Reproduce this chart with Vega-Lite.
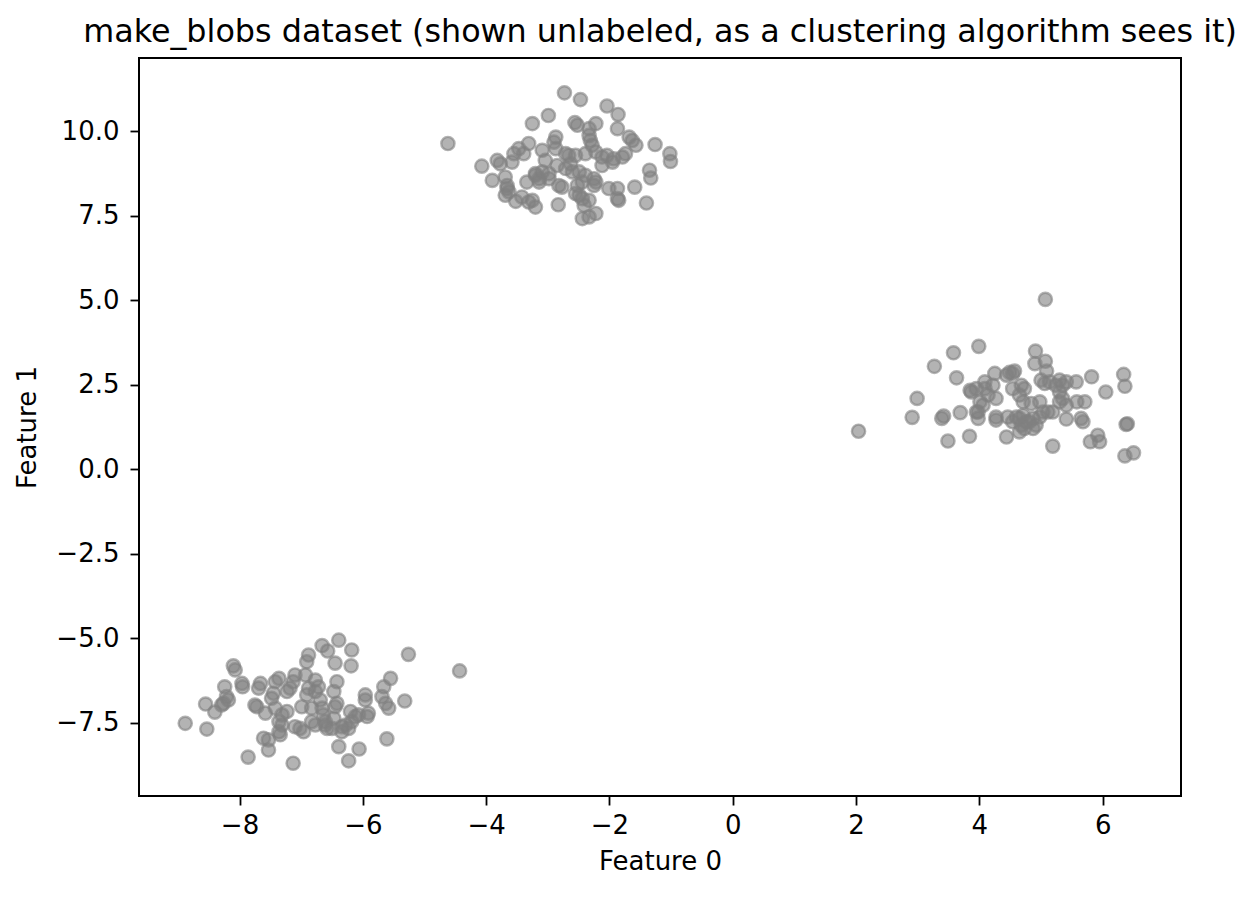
{
  "$schema": "https://vega.github.io/schema/vega-lite/v6.json",
  "autosize": "none",
  "width": 1042,
  "height": 738,
  "padding": {"left": 139, "top": 58, "right": 78, "bottom": 102},
  "background": "white",
  "config": {
    "font": "DejaVu Sans",
    "view": {"stroke": "#000000", "strokeWidth": 2},
    "axis": {"grid": false, "domain": false, "tickColor": "#000000", "tickWidth": 1.8, "tickSize": 9, "labelColor": "#000000", "titleColor": "#000000", "labelFont": "DejaVu Sans", "titleFont": "DejaVu Sans", "labelFontSize": 26, "titleFontSize": 26, "titleFontWeight": "normal"}
  },
  "title": {"text": "make_blobs dataset (shown unlabeled, as a clustering algorithm sees it)", "font": "DejaVu Sans", "fontSize": 31.8, "fontWeight": "normal", "color": "#000000", "anchor": "middle", "offset": 9},
  "data": {"values": [
    {"x":-4.62,"y":9.64},{"x":-2.73,"y":11.14},{"x":-2.47,"y":10.94},{"x":-2.04,"y":10.75},{"x":-1.86,"y":10.50},{"x":-2.99,"y":10.47},{"x":-3.25,"y":10.23},{"x":-2.56,"y":10.26},{"x":-2.52,"y":10.18},{"x":-2.22,"y":10.23},{"x":-1.87,"y":10.08},{"x":-2.33,"y":10.08},{"x":-1.68,"y":9.83},{"x":-1.63,"y":9.73},{"x":-1.57,"y":9.59},{"x":-1.26,"y":9.61},{"x":-1.02,"y":9.34},{"x":-1.01,"y":9.11},{"x":-2.87,"y":9.83},{"x":-2.90,"y":9.68},{"x":-2.31,"y":9.73},{"x":-2.28,"y":9.59},{"x":-3.47,"y":9.49},{"x":-3.39,"y":9.34},{"x":-3.31,"y":9.64},{"x":-3.09,"y":9.44},{"x":-2.66,"y":9.29},{"x":-2.71,"y":9.34},{"x":-2.39,"y":9.34},{"x":-2.12,"y":9.24},{"x":-1.95,"y":9.09},{"x":-1.79,"y":9.24},{"x":-1.74,"y":9.34},{"x":-3.82,"y":9.14},{"x":-3.77,"y":9.04},{"x":-3.58,"y":9.09},{"x":-4.07,"y":8.97},{"x":-3.90,"y":8.55},{"x":-3.69,"y":8.65},{"x":-3.66,"y":8.40},{"x":-3.63,"y":8.21},{"x":-3.52,"y":7.93},{"x":-3.31,"y":7.91},{"x":-3.20,"y":7.76},{"x":-3.25,"y":7.96},{"x":-3.42,"y":8.06},{"x":-3.34,"y":8.50},{"x":-3.20,"y":8.70},{"x":-3.09,"y":8.80},{"x":-2.98,"y":8.75},{"x":-3.14,"y":8.60},{"x":-2.82,"y":8.40},{"x":-2.77,"y":8.35},{"x":-2.83,"y":7.83},{"x":-2.60,"y":8.80},{"x":-2.49,"y":8.80},{"x":-2.39,"y":8.70},{"x":-2.25,"y":8.60},{"x":-2.22,"y":8.50},{"x":-2.44,"y":8.50},{"x":-2.55,"y":8.16},{"x":-2.49,"y":8.11},{"x":-2.44,"y":8.01},{"x":-2.33,"y":7.96},{"x":-2.41,"y":7.81},{"x":-2.44,"y":7.42},{"x":-2.33,"y":7.47},{"x":-2.22,"y":7.57},{"x":-2.01,"y":8.31},{"x":-1.87,"y":8.31},{"x":-1.87,"y":8.01},{"x":-1.85,"y":7.96},{"x":-1.59,"y":8.35},{"x":-1.40,"y":7.88},{"x":-1.35,"y":8.85},{"x":-1.33,"y":8.62},{"x":-2.12,"y":8.99},{"x":-2.63,"y":9.04},{"x":-2.85,"y":8.99},{"x":-3.04,"y":9.14},{"x":-3.55,"y":9.34},{"x":-3.20,"y":8.75},{"x":-2.55,"y":9.29},{"x":-2.71,"y":8.90},{"x":-2.52,"y":8.40},{"x":-2.25,"y":8.40},{"x":-2.04,"y":9.29},{"x":-1.93,"y":9.19},{"x":-2.22,"y":9.39},{"x":-2.33,"y":9.88},{"x":-2.87,"y":9.49},{"x":-2.98,"y":8.60},{"x":-3.14,"y":8.50},{"x":-3.69,"y":8.11},{"x":-3.66,"y":8.31},
    {"x":5.07,"y":5.03},{"x":2.04,"y":1.13},{"x":3.99,"y":3.64},{"x":3.58,"y":3.45},{"x":3.27,"y":3.05},{"x":4.91,"y":3.50},{"x":4.90,"y":3.13},{"x":5.07,"y":3.20},{"x":5.09,"y":2.91},{"x":3.63,"y":2.71},{"x":2.99,"y":2.10},{"x":2.91,"y":1.54},{"x":3.39,"y":1.51},{"x":3.42,"y":1.58},{"x":3.69,"y":1.68},{"x":3.49,"y":0.84},{"x":3.84,"y":0.98},{"x":3.85,"y":2.34},{"x":3.95,"y":2.39},{"x":4.01,"y":2.00},{"x":3.98,"y":1.70},{"x":3.98,"y":1.51},{"x":4.09,"y":2.59},{"x":4.25,"y":2.84},{"x":4.27,"y":2.10},{"x":4.27,"y":1.46},{"x":4.46,"y":1.55},{"x":4.44,"y":0.96},{"x":4.49,"y":2.87},{"x":4.57,"y":2.91},{"x":4.54,"y":2.39},{"x":4.68,"y":2.49},{"x":4.73,"y":2.39},{"x":4.65,"y":2.20},{"x":4.71,"y":2.00},{"x":4.84,"y":1.95},{"x":4.65,"y":1.51},{"x":4.68,"y":1.31},{"x":4.65,"y":1.11},{"x":4.76,"y":1.41},{"x":4.87,"y":1.51},{"x":4.92,"y":1.31},{"x":4.98,"y":1.55},{"x":5.00,"y":2.64},{"x":5.06,"y":2.54},{"x":5.19,"y":1.70},{"x":5.19,"y":0.69},{"x":5.30,"y":2.64},{"x":5.35,"y":2.49},{"x":5.30,"y":2.29},{"x":5.35,"y":2.10},{"x":5.41,"y":1.90},{"x":5.41,"y":1.49},{"x":5.57,"y":2.59},{"x":5.58,"y":2.00},{"x":5.71,"y":2.00},{"x":5.65,"y":1.51},{"x":5.68,"y":1.41},{"x":5.82,"y":2.74},{"x":6.05,"y":2.29},{"x":5.80,"y":0.82},{"x":5.92,"y":1.01},{"x":5.95,"y":0.82},{"x":6.34,"y":2.81},{"x":6.36,"y":2.46},{"x":6.38,"y":1.33},{"x":6.36,"y":0.40},{"x":6.50,"y":0.49},{"x":4.09,"y":2.39},{"x":4.14,"y":2.20},{"x":4.06,"y":1.90},{"x":4.27,"y":1.55},{"x":4.44,"y":2.79},{"x":4.54,"y":2.84},{"x":4.71,"y":1.60},{"x":4.81,"y":1.41},{"x":4.98,"y":2.00},{"x":5.03,"y":1.70},{"x":5.11,"y":1.70},{"x":5.14,"y":2.59},{"x":5.24,"y":2.49},{"x":5.30,"y":2.00},{"x":5.41,"y":2.59},{"x":4.22,"y":2.49},{"x":3.87,"y":2.29},{"x":3.95,"y":1.70},{"x":4.87,"y":1.21},{"x":4.73,"y":1.21},{"x":4.60,"y":1.55},{"x":4.54,"y":1.41},{"x":6.40,"y":1.35},
    {"x":-4.43,"y":-5.96},{"x":-5.26,"y":-5.47},{"x":-6.39,"y":-5.05},{"x":-6.66,"y":-5.21},{"x":-6.57,"y":-5.37},{"x":-6.18,"y":-5.34},{"x":-6.88,"y":-5.49},{"x":-6.91,"y":-5.69},{"x":-6.45,"y":-5.73},{"x":-6.19,"y":-5.81},{"x":-8.10,"y":-5.81},{"x":-8.07,"y":-5.93},{"x":-8.24,"y":-6.43},{"x":-7.96,"y":-6.33},{"x":-7.95,"y":-6.43},{"x":-7.66,"y":-6.33},{"x":-7.69,"y":-6.47},{"x":-7.42,"y":-6.28},{"x":-7.36,"y":-6.18},{"x":-7.10,"y":-6.08},{"x":-7.13,"y":-6.28},{"x":-7.23,"y":-6.57},{"x":-7.45,"y":-6.62},{"x":-7.48,"y":-6.77},{"x":-6.93,"y":-6.08},{"x":-6.77,"y":-6.23},{"x":-6.72,"y":-6.43},{"x":-6.77,"y":-6.57},{"x":-6.42,"y":-6.28},{"x":-6.47,"y":-6.57},{"x":-5.55,"y":-6.18},{"x":-5.66,"y":-6.43},{"x":-5.96,"y":-6.67},{"x":-5.96,"y":-6.82},{"x":-5.69,"y":-6.72},{"x":-5.63,"y":-6.92},{"x":-5.58,"y":-7.06},{"x":-5.32,"y":-6.85},{"x":-5.91,"y":-7.21},{"x":-6.07,"y":-7.26},{"x":-6.20,"y":-7.16},{"x":-6.23,"y":-7.66},{"x":-6.34,"y":-7.76},{"x":-6.39,"y":-8.20},{"x":-6.23,"y":-8.62},{"x":-6.06,"y":-8.27},{"x":-5.61,"y":-7.97},{"x":-7.13,"y":-8.69},{"x":-7.86,"y":-8.51},{"x":-7.53,"y":-8.30},{"x":-7.61,"y":-7.95},{"x":-7.53,"y":-8.00},{"x":-7.34,"y":-7.85},{"x":-8.88,"y":-7.51},{"x":-8.53,"y":-7.68},{"x":-8.55,"y":-6.94},{"x":-8.40,"y":-7.18},{"x":-8.26,"y":-6.92},{"x":-8.21,"y":-6.72},{"x":-8.18,"y":-6.82},{"x":-7.75,"y":-6.97},{"x":-7.72,"y":-7.02},{"x":-7.58,"y":-7.21},{"x":-7.42,"y":-7.06},{"x":-7.36,"y":-7.46},{"x":-7.31,"y":-7.56},{"x":-7.36,"y":-7.76},{"x":-7.31,"y":-7.26},{"x":-7.23,"y":-7.16},{"x":-7.10,"y":-7.61},{"x":-7.02,"y":-7.66},{"x":-6.96,"y":-7.76},{"x":-6.99,"y":-7.02},{"x":-6.83,"y":-7.06},{"x":-6.83,"y":-7.46},{"x":-6.77,"y":-7.56},{"x":-6.66,"y":-7.06},{"x":-6.64,"y":-7.26},{"x":-6.61,"y":-7.46},{"x":-6.61,"y":-7.56},{"x":-6.58,"y":-7.66},{"x":-6.50,"y":-7.66},{"x":-6.45,"y":-7.02},{"x":-6.47,"y":-7.36},{"x":-6.34,"y":-7.61},{"x":-6.28,"y":-7.56},{"x":-6.18,"y":-7.46},{"x":-6.12,"y":-7.31},{"x":-5.93,"y":-7.31},{"x":-6.69,"y":-6.82},{"x":-6.91,"y":-6.67},{"x":-6.88,"y":-6.47},{"x":-6.42,"y":-6.92},{"x":-7.18,"y":-6.47},{"x":-8.29,"y":-6.97}
  ]},
  "mark": {"type": "point", "shape": "circle", "filled": true, "fill": "#808080", "fillOpacity": 0.6, "stroke": "#808080", "strokeOpacity": 0.6, "strokeWidth": 2.4, "size": 175},
  "encoding": {
    "x": {"field": "x", "type": "quantitative", "title": "Feature 0",
      "scale": {"domain": [-9.63, 7.27], "nice": false, "zero": false},
      "axis": {"values": [-8, -6, -4, -2, 0, 2, 4, 6], "format": "d", "labelPadding": 7, "titlePadding": 10}},
    "y": {"field": "y", "type": "quantitative", "title": "Feature 1",
      "scale": {"domain": [-9.66, 12.17], "nice": false, "zero": false},
      "axis": {"values": [-7.5, -5, -2.5, 0, 2.5, 5, 7.5, 10], "format": ".1f", "labelPadding": 11, "titlePadding": 15}}
  }
}
